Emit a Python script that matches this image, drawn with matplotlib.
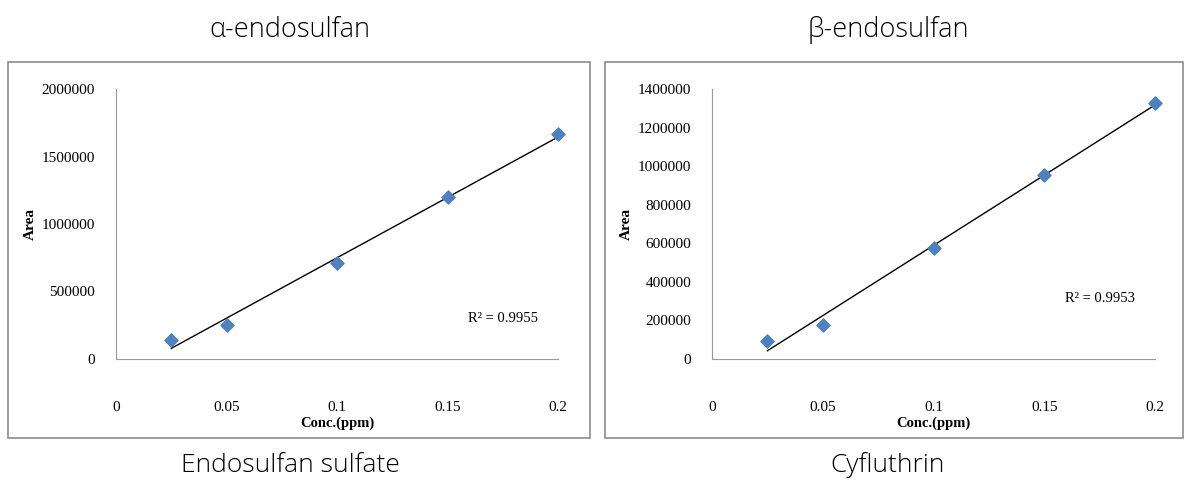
import numpy as np
import matplotlib.pyplot as plt
from matplotlib.patches import Rectangle

conc = [0.025, 0.05, 0.1, 0.15, 0.2]
area_alpha = [140000, 255000, 712000, 1200000, 1665000]
area_beta = [92000, 175000, 578000, 952000, 1330000]
r2_alpha = "0.9955"
r2_beta = "0.9953"
titles = ["α-endosulfan", "β-endosulfan"]
bottom_labels = ["Endosulfan sulfate", "Cyfluthrin"]
x_ticks = [0, 0.05, 0.1, 0.15, 0.2]
x_tick_labels = ["0", "0.05", "0.1", "0.15", "0.2"]
y_ticks_alpha = [0, 500000, 1000000, 1500000, 2000000]
y_ticks_beta = [0, 200000, 400000, 600000, 800000, 1000000, 1200000, 1400000]

W, H = 1187, 480
fig = plt.figure(figsize=(W / 100, H / 100), dpi=100)

serif = "Liberation Serif"
sans = "Open Sans"

panels = [
    dict(box=(8, 62, 590, 438), ax=(116, 89, 558, 359), y=area_alpha,
         yt=y_ticks_alpha, r2=r2_alpha, r2pos=(468, 318), cx=290, lab=37),
    dict(box=(605, 62, 1183, 438), ax=(712, 89, 1155, 359), y=area_beta,
         yt=y_ticks_beta, r2=r2_beta, r2pos=(1065, 298), cx=888, lab=633),
]

for i, p in enumerate(panels):
    bx0, by0, bx1, by1 = p["box"]
    fig.patches.append(Rectangle((bx0 / W, 1 - by1 / H), (bx1 - bx0) / W, (by1 - by0) / H,
                                 transform=fig.transFigure, fill=False,
                                 edgecolor="#8c8c8c", linewidth=1.2))
    x0, y0, x1, y1 = p["ax"]
    ax = fig.add_axes([x0 / W, 1 - y1 / H, (x1 - x0) / W, (y1 - y0) / H])
    ax.scatter(conc, p["y"], marker="D", s=45, color="#4F81BD", zorder=3, clip_on=False)
    k, b = np.polyfit(conc, p["y"], 1)
    xs = np.array([conc[0], conc[-1]])
    ax.plot(xs, k * xs + b, color="black", linewidth=1, clip_on=False)
    ax.set_xlim(0, 0.2)
    ax.set_ylim(p["yt"][0], p["yt"][-1])
    ax.set_xticks(x_ticks)
    ax.set_xticklabels(x_tick_labels, fontfamily=serif, fontsize=11)
    ax.set_yticks(p["yt"])
    ax.set_yticklabels([str(v) for v in p["yt"]], fontfamily=serif, fontsize=11)
    ax.tick_params(axis="x", length=0, pad=30)
    ax.tick_params(axis="y", length=0, pad=15)
    for s in ["top", "right"]:
        ax.spines[s].set_visible(False)
    for s in ["left", "bottom"]:
        ax.spines[s].set_color("#9a9a9a")
    ax.set_xlabel("Conc.(ppm)", fontfamily=serif, fontsize=10.5, fontweight="bold", labelpad=2)
    ax.set_ylabel("Area", fontfamily=serif, fontsize=11, fontweight="bold")
    ax.yaxis.set_label_coords((p["lab"] - x0) / (x1 - x0), 0.5)
    rx, ry = p["r2pos"]
    fig.text(rx / W, 1 - ry / H, "R² = " + p["r2"], fontfamily=serif, fontsize=10.5,
             va="center", ha="left")
    fig.text(p["cx"] / W, 1 - 30 / H, titles[i], fontfamily=sans, fontsize=19.5,
             fontweight="light", ha="center", va="center")
    fig.text(p["cx"] / W, 1 - 465 / H, bottom_labels[i], fontfamily=sans, fontsize=19,
             fontweight="light", ha="center", va="center")

fig.savefig("out.png", dpi=100)
